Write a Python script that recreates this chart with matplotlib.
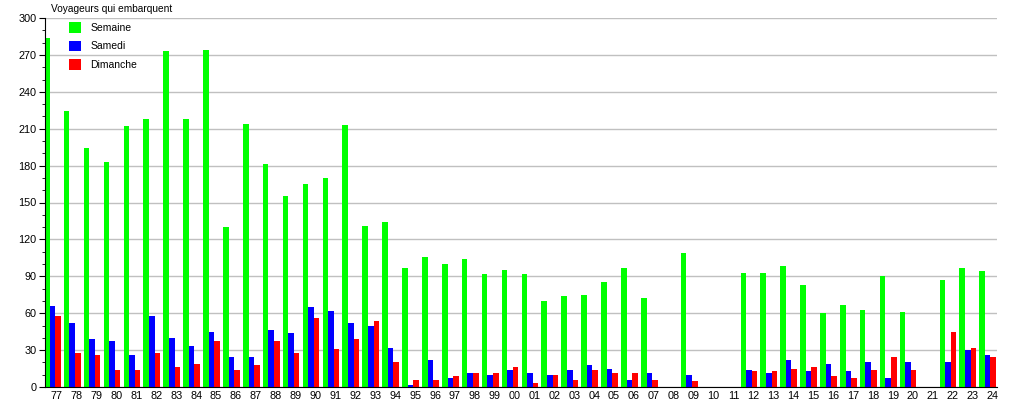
import matplotlib.pyplot as plt
import numpy as np
from matplotlib.ticker import MultipleLocator

years = [
    "77", "78", "79", "80", "81", "82", "83", "84", "85", "86", "87", "88",
    "89", "90", "91", "92", "93", "94", "95", "96", "97", "98", "99", "00",
    "01", "02", "03", "04", "05", "06", "07", "08", "09", "10", "11", "12",
    "13", "14", "15", "16", "17", "18", "19", "20", "21", "22", "23", "24",
]
semaine = [
    284, 224, 194, 183, 212, 218, 273, 218, 274, 130, 214, 181,
    155, 165, 170, 213, 131, 134, 97, 106, 100, 104, 92, 95,
    92, 70, 74, 75, 85, 97, 72, 0, 109, 0, 0, 93,
    93, 98, 83, 60, 67, 63, 90, 61, 0, 87, 97, 94,
]
samedi = [
    66, 52, 39, 37, 26, 58, 40, 33, 45, 24, 24, 46,
    44, 65, 62, 52, 50, 32, 2, 22, 7, 11, 10, 14,
    11, 10, 14, 18, 15, 6, 11, 0, 10, 0, 0, 14,
    11, 22, 13, 19, 13, 20, 7, 20, 0, 20, 30, 26,
]
dimanche = [
    58, 28, 26, 14, 14, 28, 16, 19, 37, 14, 18, 37,
    28, 56, 31, 39, 54, 20, 6, 6, 9, 11, 11, 16,
    3, 10, 6, 14, 11, 11, 6, 0, 5, 0, 0, 13,
    13, 15, 16, 9, 7, 14, 24, 14, 0, 45, 32, 24,
]

plt.rcParams["font.family"] = ["Liberation Sans", "DejaVu Sans"]

fig = plt.figure(figsize=(10.15, 4.0), dpi=100)
ax = fig.add_axes([0.0443, 0.0325, 0.938, 0.9225])

x = np.arange(len(years))
w = 0.28
ax.bar(x - w, semaine, width=w, color="#00ff00", label="Semaine", zorder=2)
ax.bar(x, samedi, width=w, color="#0000ff", label="Samedi", zorder=2)
ax.bar(x + w, dimanche, width=w, color="#ff0000", label="Dimanche", zorder=2)

ax.set_xlim(-1.5 * w + 0.05, len(years) - 1 + 1.5 * w + 0.05)
ax.set_ylim(0, 300)
ax.yaxis.set_major_locator(MultipleLocator(30))
ax.yaxis.set_minor_locator(MultipleLocator(10))
# the labels sit a little right of each group's middle
ax.set_xticks(x + 0.23)
ax.set_xticklabels(years)
ax.tick_params(axis="x", length=0, labelsize=7.8, pad=3)
ax.tick_params(axis="y", which="major", length=4, labelsize=7.8, pad=2)
ax.tick_params(axis="y", which="minor", length=2)
ax.grid(axis="y", color="#c0c0c0", linewidth=1, zorder=0)
ax.set_axisbelow(True)
for side in ["top", "right"]:
    ax.spines[side].set_visible(False)

fig.text(0.05, 0.99, "Voyageurs qui embarquent", fontsize=7.3, va="top", ha="left")

ax.legend(loc="upper left", bbox_to_anchor=(0.015, 1.014), frameon=False,
          fontsize=7.5, handlelength=1.2, handleheight=1.2, labelspacing=0.72,
          handletextpad=0.9)

fig.savefig("out.png", dpi=100)
